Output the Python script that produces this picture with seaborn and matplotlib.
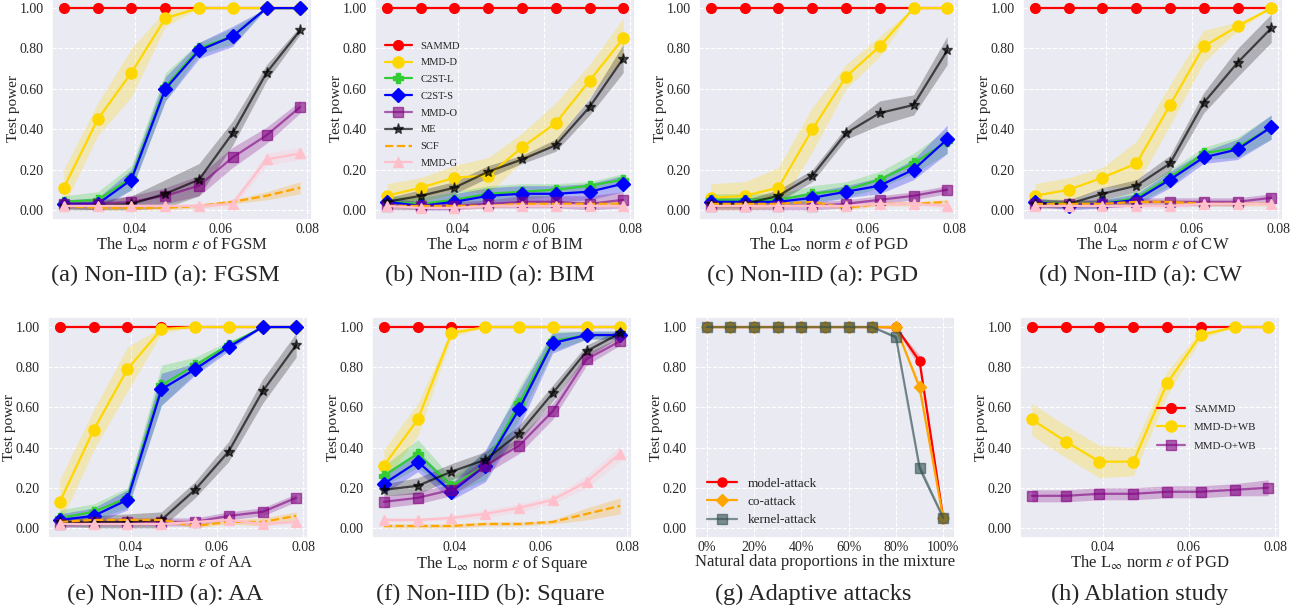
import numpy as np
import matplotlib
matplotlib.use("Agg")
import matplotlib.pyplot as plt
from matplotlib.ticker import FormatStrFormatter, FuncFormatter
import seaborn as sns

W, H = 1304, 613

# L_inf budgets (x axis of the attack panels)
EPS = [0.0235, 0.0314, 0.0392, 0.0471, 0.0549, 0.0627, 0.0706, 0.0784]
METHODS = ["SAMMD", "MMD-D", "C2ST-L", "C2ST-S", "MMD-O", "ME", "SCF", "MMD-G"]
ONES = [1.0] * 8
ZERO = [0.0] * 8

# (a) FGSM
FGSM = {
    "SAMMD": ONES,
    "MMD-D": [0.11, 0.45, 0.68, 0.95, 1.00, 1.00, 1.00, 1.00],
    "C2ST-L": [0.04, 0.05, 0.16, 0.61, 0.80, 0.86, 1.00, 1.00],
    "C2ST-S": [0.03, 0.03, 0.15, 0.60, 0.79, 0.86, 1.00, 1.00],
    "MMD-O": [0.03, 0.03, 0.04, 0.07, 0.12, 0.26, 0.37, 0.51],
    "ME": [0.02, 0.02, 0.03, 0.08, 0.15, 0.38, 0.68, 0.89],
    "SCF": [0.02, 0.01, 0.01, 0.01, 0.02, 0.04, 0.07, 0.11],
    "MMD-G": [0.02, 0.02, 0.02, 0.02, 0.02, 0.03, 0.25, 0.28],
}
FGSM_SD = {
    "SAMMD": ZERO,
    "MMD-D": [0.09, 0.08, 0.12, 0.04, 0, 0, 0, 0],
    "C2ST-L": [0.03, 0.04, 0.06, 0.07, 0.03, 0.04, 0, 0],
    "C2ST-S": [0.02, 0.03, 0.05, 0.06, 0.04, 0.05, 0, 0],
    "MMD-O": [0.02, 0.02, 0.03, 0.04, 0.05, 0.05, 0.04, 0.03],
    "ME": [0.02, 0.02, 0.04, 0.07, 0.08, 0.06, 0.04, 0.02],
    "SCF": [0.01, 0.01, 0.01, 0.01, 0.01, 0.01, 0.02, 0.03],
    "MMD-G": [0.01, 0.01, 0.01, 0.01, 0.01, 0.02, 0.03, 0.03],
}

# (b) BIM
BIM = {
    "SAMMD": ONES,
    "MMD-D": [0.07, 0.11, 0.16, 0.17, 0.31, 0.43, 0.64, 0.85],
    "C2ST-L": [0.04, 0.03, 0.05, 0.08, 0.09, 0.10, 0.12, 0.15],
    "C2ST-S": [0.04, 0.02, 0.04, 0.07, 0.08, 0.08, 0.09, 0.13],
    "MMD-O": [0.02, 0.02, 0.02, 0.03, 0.04, 0.04, 0.03, 0.05],
    "ME": [0.04, 0.07, 0.11, 0.19, 0.25, 0.32, 0.51, 0.75],
    "SCF": [0.02, 0.02, 0.02, 0.02, 0.03, 0.03, 0.03, 0.03],
    "MMD-G": [0.02, 0.01, 0.01, 0.02, 0.02, 0.02, 0.02, 0.02],
}
BIM_SD = {
    "SAMMD": ZERO,
    "MMD-D": [0.06, 0.05, 0.06, 0.09, 0.07, 0.10, 0.08, 0.10],
    "C2ST-L": [0.03, 0.03, 0.04, 0.04, 0.04, 0.03, 0.02, 0.03],
    "C2ST-S": [0.02, 0.02, 0.04, 0.04, 0.04, 0.04, 0.04, 0.04],
    "MMD-O": [0.02, 0.02, 0.02, 0.02, 0.03, 0.03, 0.04, 0.04],
    "ME": [0.02, 0.03, 0.03, 0.03, 0.02, 0.03, 0.04, 0.07],
    "SCF": [0.01] * 8,
    "MMD-G": [0.01] * 8,
}

# (c) PGD
PGD = {
    "SAMMD": ONES,
    "MMD-D": [0.06, 0.07, 0.11, 0.40, 0.66, 0.81, 1.00, 1.00],
    "C2ST-L": [0.05, 0.05, 0.05, 0.08, 0.10, 0.15, 0.23, 0.34],
    "C2ST-S": [0.04, 0.04, 0.04, 0.06, 0.09, 0.12, 0.20, 0.35],
    "MMD-O": [0.02, 0.02, 0.02, 0.02, 0.03, 0.05, 0.07, 0.10],
    "ME": [0.03, 0.03, 0.07, 0.17, 0.38, 0.48, 0.52, 0.79],
    "SCF": [0.03, 0.03, 0.03, 0.04, 0.01, 0.03, 0.03, 0.04],
    "MMD-G": [0.02, 0.02, 0.02, 0.02, 0.02, 0.03, 0.03, 0.02],
}
PGD_SD = {
    "SAMMD": ZERO,
    "MMD-D": [0.07, 0.07, 0.10, 0.11, 0.06, 0.05, 0, 0],
    "C2ST-L": [0.03, 0.03, 0.03, 0.04, 0.04, 0.04, 0.05, 0.06],
    "C2ST-S": [0.02, 0.02, 0.02, 0.03, 0.03, 0.04, 0.05, 0.07],
    "MMD-O": [0.02] * 8,
    "ME": [0.02, 0.02, 0.03, 0.03, 0.03, 0.06, 0.05, 0.07],
    "SCF": [0.01] * 8,
    "MMD-G": [0.01] * 8,
}

# (d) CW
CW = {
    "SAMMD": ONES,
    "MMD-D": [0.07, 0.10, 0.16, 0.23, 0.52, 0.81, 0.91, 1.00],
    "C2ST-L": [0.04, 0.03, 0.03, 0.06, 0.16, 0.28, 0.31, 0.41],
    "C2ST-S": [0.04, 0.02, 0.03, 0.05, 0.15, 0.26, 0.30, 0.41],
    "MMD-O": [0.03, 0.03, 0.03, 0.04, 0.04, 0.04, 0.04, 0.06],
    "ME": [0.03, 0.03, 0.08, 0.12, 0.23, 0.53, 0.73, 0.90],
    "SCF": [0.03, 0.03, 0.03, 0.04, 0.04, 0.03, 0.03, 0.03],
    "MMD-G": [0.02, 0.02, 0.02, 0.02, 0.02, 0.03, 0.03, 0.03],
}
CW_SD = {
    "SAMMD": ZERO,
    "MMD-D": [0.06, 0.06, 0.05, 0.11, 0.10, 0.08, 0.02, 0],
    "C2ST-L": [0.02, 0.02, 0.02, 0.03, 0.04, 0.03, 0.05, 0.06],
    "C2ST-S": [0.02, 0.02, 0.02, 0.03, 0.04, 0.03, 0.05, 0.06],
    "MMD-O": [0.02] * 8,
    "ME": [0.02, 0.02, 0.03, 0.03, 0.04, 0.05, 0.07, 0.07],
    "SCF": [0.01] * 8,
    "MMD-G": [0.01] * 8,
}

# (e) AA
AA = {
    "SAMMD": ONES,
    "MMD-D": [0.13, 0.49, 0.79, 0.99, 1.00, 1.00, 1.00, 1.00],
    "C2ST-L": [0.05, 0.08, 0.15, 0.71, 0.81, 0.91, 1.00, 1.00],
    "C2ST-S": [0.04, 0.06, 0.14, 0.69, 0.79, 0.90, 1.00, 1.00],
    "MMD-O": [0.02, 0.03, 0.03, 0.03, 0.03, 0.06, 0.08, 0.15],
    "ME": [0.03, 0.03, 0.03, 0.04, 0.19, 0.38, 0.68, 0.91],
    "SCF": [0.03, 0.04, 0.04, 0.04, 0.01, 0.03, 0.03, 0.06],
    "MMD-G": [0.02, 0.02, 0.02, 0.02, 0.03, 0.04, 0.02, 0.03],
}
AA_SD = {
    "SAMMD": ZERO,
    "MMD-D": [0.11, 0.10, 0.11, 0.02, 0, 0, 0, 0],
    "C2ST-L": [0.04, 0.04, 0.05, 0.10, 0.04, 0.02, 0, 0],
    "C2ST-S": [0.03, 0.04, 0.05, 0.08, 0.03, 0.02, 0, 0],
    "MMD-O": [0.02] * 8,
    "ME": [0.02, 0.03, 0.04, 0.04, 0.04, 0.05, 0.06, 0.06],
    "SCF": [0.01, 0.01, 0.01, 0.01, 0.01, 0.01, 0.02, 0.02],
    "MMD-G": [0.01] * 8,
}

# (f) Square
SQUARE = {
    "SAMMD": ONES,
    "MMD-D": [0.31, 0.54, 0.97, 1.00, 1.00, 1.00, 1.00, 1.00],
    "C2ST-L": [0.26, 0.37, 0.21, 0.31, 0.62, 0.93, 0.96, 0.96],
    "C2ST-S": [0.22, 0.33, 0.18, 0.31, 0.59, 0.92, 0.96, 0.96],
    "MMD-O": [0.13, 0.15, 0.19, 0.31, 0.41, 0.58, 0.84, 0.93],
    "ME": [0.19, 0.21, 0.28, 0.34, 0.47, 0.67, 0.88, 0.97],
    "SCF": [0.01, 0.01, 0.01, 0.02, 0.02, 0.03, 0.07, 0.11],
    "MMD-G": [0.04, 0.04, 0.05, 0.07, 0.10, 0.14, 0.23, 0.37],
}
SQUARE_SD = {
    "SAMMD": ZERO,
    "MMD-D": [0.08, 0.08, 0.02, 0, 0, 0, 0, 0],
    "C2ST-L": [0.05, 0.07, 0.04, 0.07, 0.08, 0.05, 0.02, 0.02],
    "C2ST-S": [0.05, 0.05, 0.04, 0.08, 0.09, 0.05, 0.02, 0.02],
    "MMD-O": [0.03, 0.03, 0.03, 0.04, 0.04, 0.04, 0.03, 0.02],
    "ME": [0.03, 0.04, 0.04, 0.04, 0.04, 0.04, 0.03, 0.02],
    "SCF": [0.01, 0.01, 0.01, 0.01, 0.01, 0.01, 0.03, 0.04],
    "MMD-G": [0.01, 0.01, 0.01, 0.02, 0.02, 0.02, 0.03, 0.04],
}

# (g) adaptive attacks
MIX = [0, 10, 20, 30, 40, 50, 60, 70, 80, 90, 100]
ADAPT_NAMES = ["model-attack", "co-attack", "kernel-attack"]
ADAPT = {
    "model-attack": [1, 1, 1, 1, 1, 1, 1, 1, 1.00, 0.83, 0.05],
    "co-attack": [1, 1, 1, 1, 1, 1, 1, 1, 1.00, 0.70, 0.05],
    "kernel-attack": [1, 1, 1, 1, 1, 1, 1, 1, 0.95, 0.30, 0.05],
}
ADAPT_SD = {
    "model-attack": [0, 0, 0, 0, 0, 0, 0, 0, 0.01, 0.03, 0.01],
    "co-attack": [0, 0, 0, 0, 0, 0, 0, 0, 0.01, 0.02, 0.01],
    "kernel-attack": [0, 0, 0, 0, 0, 0, 0, 0, 0.01, 0.02, 0.01],
}

# (h) ablation
ABL_NAMES = ["SAMMD", "MMD-D+WB", "MMD-O+WB"]
ABL = {
    "SAMMD": ONES,
    "MMD-D+WB": [0.54, 0.43, 0.33, 0.33, 0.72, 0.96, 1.00, 1.00],
    "MMD-O+WB": [0.16, 0.16, 0.17, 0.17, 0.18, 0.18, 0.19, 0.20],
}
ABL_SD = {
    "SAMMD": ZERO,
    "MMD-D+WB": [0.08, 0.08, 0.08, 0.07, 0.06, 0.02, 0, 0],
    "MMD-O+WB": [0.03, 0.03, 0.03, 0.03, 0.03, 0.03, 0.03, 0.04],
}

STYLES = {
    "SAMMD": dict(color="red", marker="o", ms=7),
    "MMD-D": dict(color="gold", marker="o", ms=8),
    "C2ST-L": dict(color="limegreen", marker="P", ms=7),
    "C2ST-S": dict(color="blue", marker="D", ms=7),
    "MMD-O": dict(color="purple", marker="s", ms=6.5, alpha=0.6),
    "ME": dict(color="black", marker="*", ms=8, alpha=0.65),
    "SCF": dict(color="orange", marker=None, ms=0, ls="--"),
    "MMD-G": dict(color="pink", marker="^", ms=7),
    "MMD-D+WB": dict(color="gold", marker="o", ms=8),
    "MMD-O+WB": dict(color="purple", marker="s", ms=6.5, alpha=0.6),
    "model-attack": dict(color="red", marker="o", ms=6.5),
    "co-attack": dict(color="orange", marker="D", ms=6.5),
    "kernel-attack": dict(color="darkslategray", marker="s", ms=6.5, alpha=0.6),
}


def set_plt_params():
    sns.set_theme(style="darkgrid", rc={"grid.linestyle": "--", "grid.linewidth": 0.8})
    plt.rcParams["font.family"] = ["Liberation Serif", "DejaVu Serif"]
    plt.rcParams["mathtext.fontset"] = "stix"
    plt.rcParams["xtick.labelsize"] = 10
    plt.rcParams["ytick.labelsize"] = 10
    plt.rcParams["xtick.major.size"] = 0
    plt.rcParams["ytick.major.size"] = 0
    plt.rcParams["xtick.major.pad"] = 2
    plt.rcParams["ytick.major.pad"] = 6
    plt.rcParams["axes.labelsize"] = 12


def add_axes(fig, left, top, right, bottom):
    return fig.add_axes([left / W, 1 - bottom / H, (right - left) / W, (bottom - top) / H])


def curves(ax, x, means, sds, names):
    for name in names:
        st = STYLES[name]
        m = np.array(means[name], dtype=float)
        s = np.array(sds[name], dtype=float)
        ax.fill_between(x, np.clip(m - s, 0, 1), np.clip(m + s, 0, 1),
                        color=st["color"], alpha=0.25, lw=0)
        sns.lineplot(x=x, y=m, ax=ax, color=st["color"], marker=st["marker"],
                     markersize=st["ms"], linestyle=st.get("ls", "-"),
                     alpha=st.get("alpha", 1.0), linewidth=1.6,
                     markeredgecolor=st["color"], markeredgewidth=1,
                     label=name, legend=False)
    ax.set_ylim(-0.05, 1.05)
    ax.set_yticks([0, 0.2, 0.4, 0.6, 0.8, 1.0])
    ax.yaxis.set_major_formatter(FormatStrFormatter("%.2f"))
    ax.set_ylabel("Test power", fontsize=11, labelpad=0)


def eps_panel(ax, means, sds, names, attack):
    curves(ax, EPS, means, sds, names)
    ax.set_xticks([0.04, 0.06, 0.08])
    ax.set_xlabel(r"The L$_{\infty}$ norm $\varepsilon$ of " + attack, labelpad=0)


if __name__ == "__main__":
    set_plt_params()
    fig = plt.figure(figsize=(W / 100, H / 100), dpi=100)

    top_lefts = [52, 375, 699, 1023]
    bot_lefts = [48, 372, 695, 1020]
    top_axes = [add_axes(fig, l, -2, l + 260, 220) for l in top_lefts]
    bot_axes = [add_axes(fig, l, 317, l + 260, 538) for l in bot_lefts]

    eps_panel(top_axes[0], FGSM, FGSM_SD, METHODS, "FGSM")
    eps_panel(top_axes[1], BIM, BIM_SD, METHODS, "BIM")
    eps_panel(top_axes[2], PGD, PGD_SD, METHODS, "PGD")
    eps_panel(top_axes[3], CW, CW_SD, METHODS, "CW")
    eps_panel(bot_axes[0], AA, AA_SD, METHODS, "AA")
    eps_panel(bot_axes[1], SQUARE, SQUARE_SD, METHODS, "Square")

    top_axes[1].legend(loc="center left", bbox_to_anchor=(0.0, 0.52), frameon=False,
                       fontsize=7.6, handlelength=2.6, labelspacing=0.7)

    ax = bot_axes[2]
    curves(ax, MIX, ADAPT, ADAPT_SD, ADAPT_NAMES)
    ax.set_xticks([0, 20, 40, 60, 80, 100])
    ax.xaxis.set_major_formatter(FuncFormatter(lambda v, p: f"{int(v)}%"))
    ax.set_xlabel("Natural data proportions in the mixture", labelpad=0)
    ax.legend(loc="lower left", frameon=False, fontsize=9.5, handlelength=2.3,
              labelspacing=0.45)

    ax = bot_axes[3]
    curves(ax, EPS, ABL, ABL_SD, ABL_NAMES)
    ax.set_xticks([0.04, 0.06, 0.08])
    ax.set_xlabel(r"The L$_{\infty}$ norm $\varepsilon$ of PGD", labelpad=0)
    ax.legend(loc="center left", bbox_to_anchor=(0.49, 0.5), frameon=False,
              fontsize=7.8, handlelength=2.6, labelspacing=0.85)

    captions_top = ["(a) Non-IID (a): FGSM", "(b) Non-IID (a): BIM",
                    "(c) Non-IID (a): PGD", "(d) Non-IID (a): CW"]
    captions_bot = ["(e) Non-IID (a): AA", "(f) Non-IID (b): Square",
                    "(g) Adaptive attacks", "(h) Ablation study"]
    centers = [165, 490, 813, 1140]
    for cx, t in zip(centers, captions_top):
        fig.text(cx / W, 1 - 275 / H, t, ha="center", va="center", fontsize=17.5)
    for cx, t in zip(centers, captions_bot):
        fig.text(cx / W, 1 - 594 / H, t, ha="center", va="center", fontsize=17.5)

    fig.savefig("out.png", dpi=100)
